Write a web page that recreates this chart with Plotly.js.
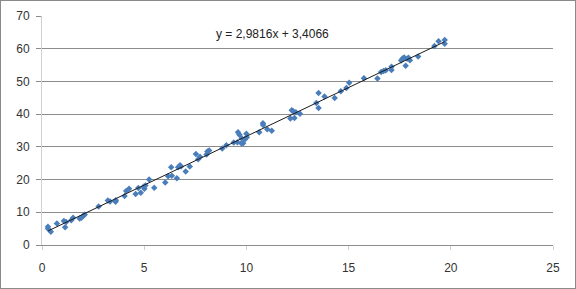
<!DOCTYPE html>
<html>
<head>
<meta charset="utf-8">
<script src="https://cdn.plot.ly/plotly-3.0.1.min.js"></script>
<style>
html,body{margin:0;padding:0;background:#fff;}
#wrap{position:relative;width:576px;height:289px;}
#chart{width:576px;height:289px;}
#frame{position:absolute;left:0;top:0;width:574px;height:287px;border:1px solid #8a8a8a;pointer-events:none;}
</style>
</head>
<body>
<div id="wrap"><div id="chart"></div><div id="frame"></div></div>
<script>
const xVals = [0.29,0.30,0.43,0.73,1.07,1.18,1.13,1.43,1.52,1.84,1.93,2.04,2.09,2.77,3.22,3.33,3.61,3.60,4.04,4.12,4.26,4.58,4.71,4.83,4.97,5.01,5.06,5.24,5.49,6.03,6.17,6.32,6.35,6.60,6.66,6.75,6.80,7.03,7.23,7.53,7.64,7.73,8.05,8.09,8.18,8.82,9.02,9.38,9.56,9.59,9.66,9.77,9.75,9.84,9.93,10.00,10.02,10.63,10.81,10.82,11.02,11.24,12.15,12.22,12.29,12.35,12.42,12.62,13.42,13.53,13.53,13.82,14.32,14.62,14.89,15.03,15.75,16.41,16.59,16.71,16.82,17.10,17.10,17.57,17.64,17.72,17.79,17.86,17.93,18.00,18.40,19.20,19.40,19.70,19.70];
const yVals = [5.57,4.96,4.05,6.6,7.3,7.0,5.4,7.6,8.3,8.1,8.3,9.0,9.3,11.75,13.6,13.3,13.7,13.2,15.0,16.5,17.2,15.6,17.4,16.0,17.8,17.2,18.2,20.0,17.5,19.1,21.0,23.8,21.2,20.4,23.8,24.4,24.0,22.5,24.0,27.8,26.2,27.0,27.7,28.6,28.9,29.5,30.5,31.3,31.4,34.5,33.7,32.6,31.1,31.1,32.3,34.0,32.9,34.5,37.2,36.7,35.4,34.9,38.7,41.2,40.9,38.8,40.6,40.1,43.4,46.5,41.9,45.4,44.9,47.0,48.0,49.6,51.0,50.9,52.9,53.2,53.4,54.5,53.5,56.4,57.0,57.3,54.8,56.9,57.2,56.5,57.6,60.8,62.3,62.7,61.5];
const slope = 2.9816, intercept = 3.4066;
const eqText = "y = 2,9816x + 3,4066";
const xTicks = [0,5,10,15,20,25];
const yTicks = [0,10,20,30,40,50,60,70];

const xMin = Math.min(...xVals), xMax = Math.max(...xVals);
const trendX = [xMin, xMax];
const trendY = trendX.map(x => slope*x + intercept);

const data = [
  {x: xVals, y: yVals, type:'scatter', mode:'markers',
   marker:{symbol:'diamond', size:5, color:'#4A7EBB', line:{width:0}}, hoverinfo:'x+y'},
  {x: trendX, y: trendY, type:'scatter', mode:'lines',
   line:{color:'#1a1a1a', width:1}, hoverinfo:'skip'}
];
const layout = {
  width:576, height:289,
  margin:{l:41.5, r:22.5, t:15.5, b:44, pad:0},
  paper_bgcolor:'#fff', plot_bgcolor:'#fff',
  showlegend:false,
  font:{family:'"Liberation Sans", Arial, sans-serif', size:12, color:'#333'},
  xaxis:{range:[0,25], tickvals:xTicks, ticktext:xTicks.map(String), showgrid:false, zeroline:false,
         showline:true, linecolor:'#8c8c8c', linewidth:1, ticks:'outside', ticklen:4, tickcolor:'#d0d0d0',
         ticklabelstandoff:8,
         tickfont:{size:12, color:'#333'}, fixedrange:true},
  yaxis:{range:[0,70], tickvals:yTicks, ticktext:yTicks.map(String), showgrid:true, gridcolor:'#8c8c8c', gridwidth:1,
         zeroline:false, showline:true, linecolor:'#d0d0d0', linewidth:1, ticks:'outside', ticklen:5, tickcolor:'#8c8c8c',
         ticklabelstandoff:4,
         tickfont:{size:12, color:'#333'}, fixedrange:true},
  annotations:[{x:11.27, y:64.5, xref:'x', yref:'y', text:eqText, showarrow:false,
                font:{size:12, color:'#222', family:'"Liberation Sans", Arial, sans-serif'}}]
};
Plotly.newPlot('chart', data, layout, {displayModeBar:false, staticPlot:true});
</script>
</body>
</html>
